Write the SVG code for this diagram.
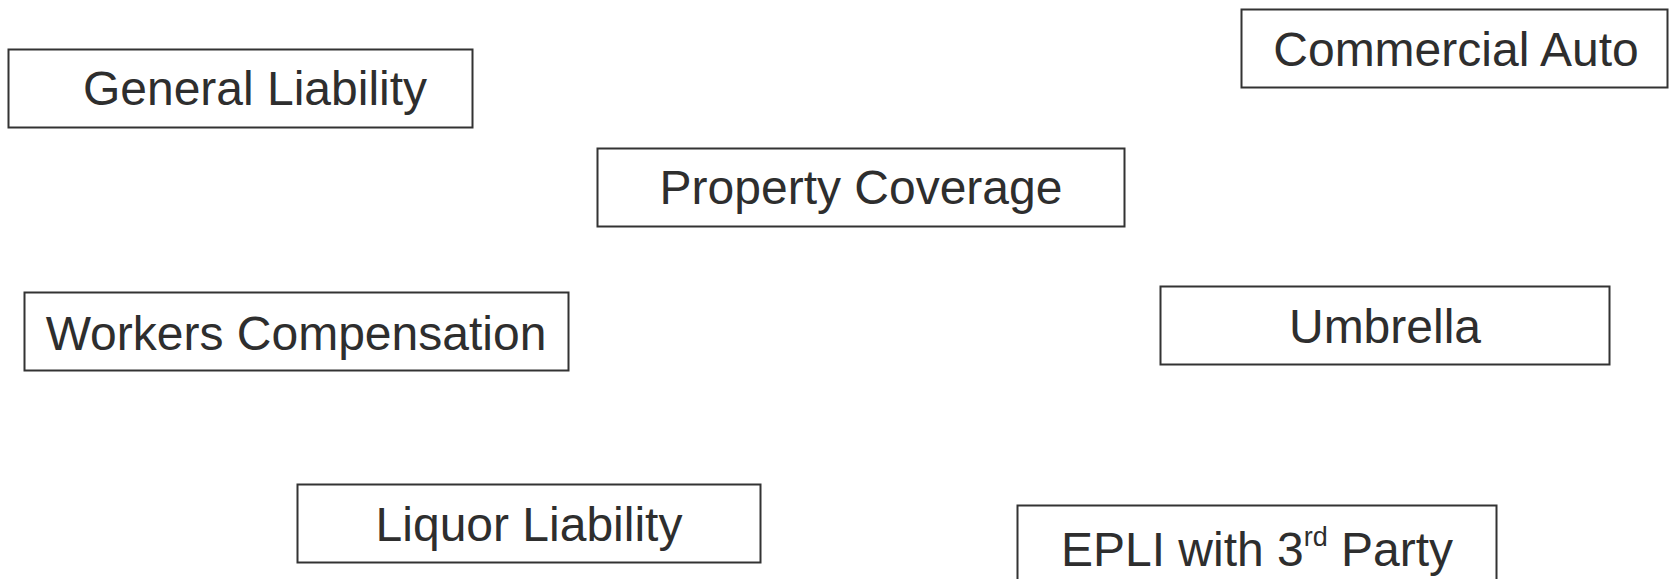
<svg xmlns="http://www.w3.org/2000/svg" width="1673" height="579" viewBox="0 0 1673 579">
<style>
.box{fill:#fff;stroke:#333;stroke-width:2}
.lbl{font-family:"Liberation Sans",Arial,sans-serif;font-size:48px;fill:#2e2e2e;text-anchor:middle}
</style>
<rect width="1673" height="579" fill="#fff"/>
<g id="connectors"></g>
<g id="general-liability"><rect class="box" x="8.5" y="49.5" width="464" height="78"/><text class="lbl" x="255" y="105">General Liability</text></g>
<g id="commercial-auto"><rect class="box" x="1241.5" y="9.5" width="426" height="78"/><text class="lbl" x="1456" y="66">Commercial Auto</text></g>
<g id="property-coverage"><rect class="box" x="597.5" y="148.5" width="527" height="78"/><text class="lbl" x="861" y="204">Property Coverage</text></g>
<g id="workers-compensation"><rect class="box" x="24.5" y="292.5" width="544" height="78"/><text class="lbl" x="296" y="350">Workers Compensation</text></g>
<g id="umbrella"><rect class="box" x="1160.5" y="286.5" width="449" height="78"/><text class="lbl" x="1385" y="343">Umbrella</text></g>
<g id="liquor-liability"><rect class="box" x="297.5" y="484.5" width="463" height="78"/><text class="lbl" x="529" y="541">Liquor Liability</text></g>
<g id="epli"><rect class="box" x="1017.5" y="505.5" width="479" height="80"/><text class="lbl" x="1257" y="566">EPLI with 3<tspan font-size="27" dy="-20">rd</tspan><tspan dy="20"> Party</tspan></text></g>
</svg>
